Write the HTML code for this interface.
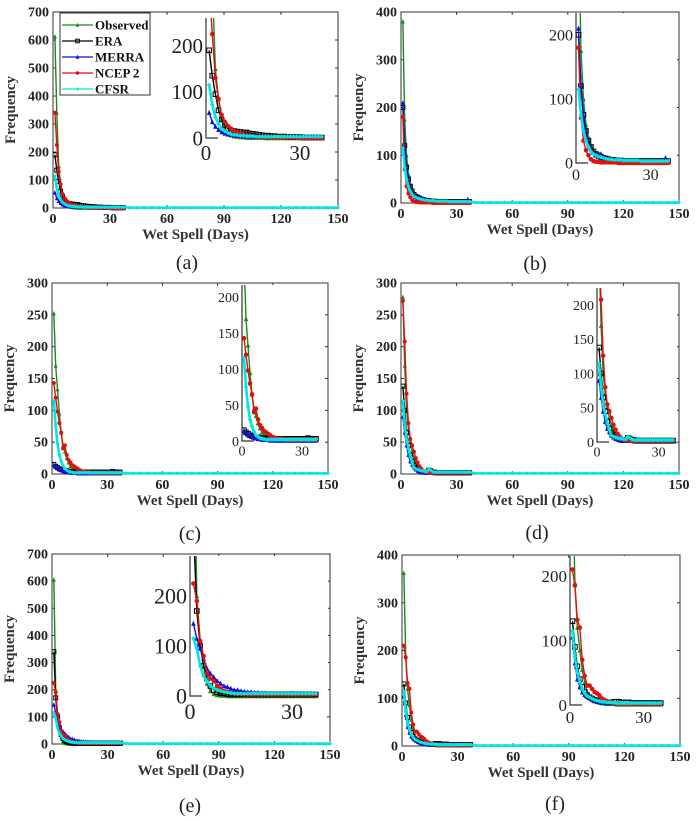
<!DOCTYPE html>
<html><head><meta charset="utf-8"><style>
html,body{margin:0;padding:0;background:#fff}
svg{display:block;font-family:"Liberation Serif",serif}
text{font-family:"Liberation Serif",serif}
</style></head><body>
<svg id="fig" width="696" height="821" viewBox="0 0 696 821" font-family="Liberation Serif, serif"></svg>
<script>
// shared x data
const xTicks=[0,30,60,90,120,150];
const tailDays=[40,44,48,52,56,60,64,68,72,76,80,84,88,92,96,100,104,108,112,116,120,124,128,132,136,140,144,148,150];
const tailVals=[1,1,1,1,1,1,1,1,1,1,1,1,1,1,1,1,1,1,1,1,1,1,1,1,1,1,1,1,1];
const seriesNames=["Observed","ERA","MERRA","NCEP 2","CFSR"];
// panel a
const aObs=[612,340,150,85,40,20,10,6,4,3,2,2,1,1,1,1,1,1,0,0,0,0,0,0,0,0,0,0,0,0,0,0,0,0,0,0,0];
const aEra=[190,135,95,60,40,28,20,16,15,14,13,12,12,10,9,8,7,6,5,5,4,4,3,3,3,2,2,2,2,2,1,1,1,1,1,1,1];
const aMerra=[55,35,25,18,13,10,8,7,6,5,5,4,4,4,3,3,3,3,3,2,2,2,2,2,2,2,2,2,1,1,1,1,1,1,1,1,1];
const aNcep=[340,225,130,85,50,35,26,20,15,12,10,8,6,5,4,3,3,2,2,2,1,1,1,1,1,1,1,1,1,0,0,0,0,0,0,0,0];
const aCfsr=[115,72,45,30,20,15,11,8,7,6,5,5,4,4,4,3,3,3,3,3,3,3,3,3,3,3,3,3,3,3,3,3,3,3,3,3,3];
// panel b
const bObs=[380,175,100,60,40,28,20,14,10,8,6,5,4,3,3,2,2,2,1,1,1,1,1,1,1,1,1,1,1,1,1,1,1,1,1,1,1];
const bEra=[200,120,75,50,35,25,18,14,12,10,8,7,6,5,5,4,4,4,3,3,3,3,3,3,3,3,3,3,3,3,3,3,3,3,3,3,3];
const bMerra=[210,120,70,45,30,22,16,12,10,14,8,7,6,5,5,4,4,4,4,3,3,3,3,3,3,3,3,3,3,3,3,3,3,3,3,8,3];
const bNcep=[180,70,35,20,12,6,3,2,2,1,1,1,1,1,1,1,0,0,0,0,0,0,0,0,0,0,0,0,0,0,0,0,0,0,0,0,0];
const bCfsr=[115,75,50,35,25,18,14,12,10,9,8,7,6,6,5,5,5,5,4,4,4,4,4,4,4,3,3,3,3,3,3,3,3,3,3,3,3];
// panel c
const cObs=[252,170,133,95,65,45,35,25,18,12,8,6,4,3,2,2,1,1,1,1,1,1,1,1,1,1,1,1,1,1,1,1,1,1,1,1,1];
const cEra=[15,12,10,8,7,6,5,5,4,4,4,3,3,3,3,3,3,3,3,3,3,3,3,3,3,3,3,3,3,3,3,3,4,3,3,3,3];
const cMerra=[14,12,10,8,6,5,4,3,3,2,2,2,2,1,1,1,1,1,1,1,1,1,1,1,1,1,1,1,1,1,1,1,1,1,1,1,1];
const cNcep=[143,120,98,80,65,40,45,30,22,18,14,12,10,8,6,5,4,3,3,3,2,2,2,2,2,2,2,2,2,2,2,2,2,2,2,2,2];
const cCfsr=[115,75,48,30,20,13,8,6,4,3,3,2,2,2,2,2,2,2,2,2,2,2,2,2,2,2,2,2,2,2,2,2,2,2,2,2,2];
// panel d
const dObs=[278,170,100,70,50,35,25,18,12,8,6,4,3,3,2,2,2,1,1,1,1,1,1,1,1,1,1,1,1,1,1,1,1,1,1,1,1];
const dEra=[138,100,65,45,30,20,14,10,8,6,4,3,3,3,6,5,3,3,2,2,2,2,2,2,2,2,2,2,2,2,2,2,2,2,2,2,2];
const dMerra=[90,65,45,30,20,15,10,7,5,4,3,3,2,2,4,3,2,2,2,2,2,2,2,2,2,2,2,2,2,2,2,2,2,2,2,2,2];
const dNcep=[272,208,126,80,55,45,35,25,18,12,8,5,4,3,3,2,2,2,2,2,2,2,2,2,2,2,2,2,2,2,2,2,2,2,2,2,2];
const dCfsr=[115,80,55,40,28,18,10,8,7,6,5,5,4,4,8,6,4,3,3,3,3,3,3,3,3,3,3,3,3,3,3,3,3,3,3,3,3];
// panel e
const eObs=[605,200,110,60,25,10,4,2,1,1,0,0,0,0,0,0,0,0,0,0,0,0,0,0,0,0,0,0,0,0,0,0,0,0,0,0,0];
const eEra=[340,170,100,60,35,20,12,8,6,5,4,3,3,3,3,3,3,3,3,3,3,3,3,3,3,3,3,3,3,3,3,3,3,3,3,3,3];
const eMerra=[145,115,95,75,55,45,38,30,25,20,18,15,12,12,10,9,8,8,7,7,6,6,5,5,5,5,5,5,5,6,5,5,5,4,4,4,4];
const eNcep=[225,190,110,80,45,35,30,20,15,10,8,6,5,4,4,3,3,3,3,3,3,3,3,3,3,3,3,3,3,3,3,3,3,3,3,3,3];
const eCfsr=[115,95,60,40,30,20,15,12,10,8,7,6,5,5,5,5,5,5,5,5,5,5,5,5,5,5,5,5,5,5,5,5,5,5,5,5,5];
// panel f
const fObs=[362,190,120,85,55,35,20,12,8,6,5,4,3,3,2,2,2,2,1,1,1,1,1,1,1,1,1,1,1,1,1,1,1,1,1,1,1];
const fEra=[130,90,60,40,28,20,15,12,10,8,7,6,5,5,4,4,4,5,5,5,4,4,4,4,3,3,3,3,3,3,3,3,3,3,3,3,3];
const fMerra=[105,65,40,28,20,16,13,11,9,7,6,5,4,4,4,3,3,3,3,3,3,3,3,3,3,3,3,3,3,3,3,3,3,3,3,3,3];
const fNcep=[210,185,132,120,70,45,30,30,25,20,18,15,10,8,6,5,4,3,3,3,2,2,2,2,2,2,2,2,2,2,2,2,2,2,2,2,2];
const fCfsr=[115,75,50,35,25,18,14,12,10,8,7,6,5,5,4,4,4,4,3,3,3,3,3,3,3,3,3,3,3,3,3,3,3,3,3,3,3];
const aYTicks=[0,100,200,300,400,500,600,700];
const bYTicks=[0,100,200,300,400];
const cYTicks=[0,50,100,150,200,250,300];
const eYTicks=[0,100,200,300,400,500,600,700];
const insetXTicks=[0,30];

const NS="http://www.w3.org/2000/svg";
const FF="Liberation Serif, serif";
const svg=document.getElementById('fig');
const colors=["#1a8a1a","#000000","#1010d0","#e01010","#00e5e5"];
const markers=["star","square","tri","circle","diamond"];
function mk(tag,attrs,parent){const e=document.createElementNS(NS,tag);for(const k in attrs)e.setAttribute(k,attrs[k]);if(tag==='text')e.setAttribute('font-family',FF);(parent||svg).appendChild(e);return e;}
function marker(g,type,x,y,c,s){
  let e;
  if(type==="square") e=mk('rect',{x:x-s,y:y-s,width:2*s,height:2*s,fill:'none',stroke:c,'stroke-width':1},g);
  else if(type==="tri") e=mk('polygon',{points:`${x},${y-s-0.5} ${x-s},${y+s} ${x+s},${y+s}`,fill:c},g);
  else if(type==="circle") e=mk('circle',{cx:x,cy:y,r:s,fill:c},g);
  else if(type==="diamond") e=mk('polygon',{points:`${x},${y-s} ${x+s},${y} ${x},${y+s} ${x-s},${y}`,fill:c},g);
  else e=mk('polygon',{points:`${x},${y-s-0.5} ${x+s},${y+s} ${x-s},${y+s}`,fill:c},g);
  
  
}
let clipId=0;
function axes(P){
  P.sx=v=>P.x0+(v/P.xmax)*(P.x1-P.x0);
  P.sy=v=>P.y1-(v/P.ymax)*(P.y1-P.y0);
}
function drawSeries(g,P,series,withTail,ms){
  series.forEach((arr,si)=>{
    const pts=arr.map((v,i)=>[P.sx(i+1),P.sy(v)]);
    if(withTail&&si===4){tailDays.forEach((d,i)=>pts.push([P.sx(d),P.sy(tailVals[i])]));}
    const sw=(si===4)?2.6:1.4;
    const line=mk('polyline',{points:pts.map(p=>p.join(',')).join(' '),fill:'none',stroke:colors[si],'stroke-width':sw},g);
    
    
    pts.forEach(p=>marker(g,markers[si],p[0],p[1],colors[si],ms));
  });
}
function panel(name,P,yTicks,series,inset,caption,legend){
  axes(P);
  const g=mk('g',{});
  
  
  const id='clip'+(clipId++);
  const cp=mk('clipPath',{id:id},g);mk('rect',{x:P.x0,y:P.y0,width:P.x1-P.x0+3,height:P.y1-P.y0+3},cp);
  const frame=mk('rect',{x:P.x0,y:P.y0,width:P.x1-P.x0,height:P.y1-P.y0,fill:'none',stroke:'#333','stroke-width':1},g);
  
  
  xTicks.forEach(t=>{const x=P.sx(t);
    mk('line',{x1:x,x2:x,y1:P.y1,y2:P.y1-3,stroke:'#333'},g);mk('line',{x1:x,x2:x,y1:P.y0,y2:P.y0+3,stroke:'#333'},g);
    const tx=mk('text',{x:x,y:P.y1+15,'text-anchor':'middle','font-size':14,'font-weight':'bold',fill:'#222'},g);tx.textContent=t;
    
    
  });
  yTicks.forEach(t=>{const y=P.sy(t);
    mk('line',{x1:P.x0,x2:P.x0+3,y1:y,y2:y,stroke:'#333'},g);mk('line',{x1:P.x1,x2:P.x1-3,y1:y,y2:y,stroke:'#333'},g);
    const tx=mk('text',{x:P.x0-4,y:y+4.5,'text-anchor':'end','font-size':14,'font-weight':'bold',fill:'#222'},g);tx.textContent=t;
    
    
  });
  const xt=mk('text',{x:(P.x0+P.x1)/2,y:P.y1+31,'text-anchor':'middle','font-size':15,'font-weight':'bold',fill:'#333'},g);xt.textContent='Wet Spell (Days)';
  
  
  const cy=(P.y0+P.y1)/2;
  const yt=mk('text',{x:0,y:0,transform:`translate(${P.x0-38},${cy}) rotate(-90)`,'text-anchor':'middle','font-size':15,'font-weight':'bold',fill:'#333'},g);yt.textContent='Frequency';
  
  
  const sg=mk('g',{'clip-path':`url(#${id})`},g);
  drawSeries(sg,P,series,true,2);
  const I=inset; axes(I);
  const ig=mk('g',{},g);
  
  
  mk('rect',{x:I.x0,y:I.y0,width:I.x1-I.x0+4,height:I.y1-I.y0,fill:'#fff'},ig);
  const id2='clip'+(clipId++);
  const cp2=mk('clipPath',{id:id2},ig);mk('rect',{x:I.x0,y:I.y0,width:I.x1-I.x0+4,height:I.y1-I.y0+3},cp2);
  mk('polyline',{points:`${I.x0},${I.y0} ${I.x0},${I.y1} ${I.x0+12},${I.y1}`,fill:'none',stroke:'#333','stroke-width':1.2},ig);
  const isg=mk('g',{'clip-path':`url(#${id2})`},ig);
  drawSeries(isg,I,series,false,2.3);
  I.yt.forEach(t=>{const tx=mk('text',{x:I.x0-3,y:I.sy(t)+I.fs*0.35,'text-anchor':'end','font-size':I.fs,fill:'#222'},ig);tx.textContent=t;
    
    });
  insetXTicks.forEach(t=>{const tx=mk('text',{x:I.sx(t),y:I.y1+I.fs*1.05,'text-anchor':'middle','font-size':I.fs,fill:'#222'},ig);tx.textContent=t;
    
    });
  const cap=mk('text',{x:caption[0],y:caption[1],'text-anchor':'middle','font-size':20,fill:'#222'},g);cap.textContent=caption[2];
  
  
  if(legend){
    const lg=mk('g',{},g);
    
    
    mk('rect',{x:60,y:13,width:90,height:82,fill:'#fff',stroke:'#333','stroke-width':1},lg);
    seriesNames.forEach((n,i)=>{const y=25+i*16;
      const e=mk('g',{},lg);
      
      
      mk('line',{x1:62,x2:93,y1:y,y2:y,stroke:colors[i],'stroke-width':1.3},e);
      marker(e,markers[i],77.5,y,colors[i],1.8);
      const t=mk('text',{x:95,y:y+4.5,'font-size':13,'font-weight':'bold',fill:'#111'},e);t.textContent=n;});
  }
}
panel('a',{x0:53,x1:338,y0:12,y1:208,xmax:150,ymax:700},aYTicks,[aObs,aEra,aMerra,aNcep,aCfsr],
  {x0:206,x1:328,y0:18,y1:138,xmax:39,ymax:260,yt:[0,100,200],fs:21},[187,269,'(a)'],true);
panel('b',{x0:401,x1:679,y0:12,y1:203,xmax:150,ymax:400},bYTicks,[bObs,bEra,bMerra,bNcep,bCfsr],
  {x0:576,x1:673,y0:13,y1:163,xmax:39,ymax:234,yt:[0,100,200],fs:16},[535,270,'(b)'],false);
panel('c',{x0:52,x1:328,y0:283,y1:474,xmax:150,ymax:300},cYTicks,[cObs,cEra,cMerra,cNcep,cCfsr],
  {x0:242,x1:317,y0:285,y1:441,xmax:37.5,ymax:217,yt:[0,50,100,150,200],fs:14},[190,540,'(c)'],false);
panel('d',{x0:401,x1:679,y0:283,y1:474,xmax:150,ymax:300},cYTicks,[dObs,dEra,dMerra,dNcep,dCfsr],
  {x0:597,x1:673,y0:288,y1:442,xmax:37,ymax:225,yt:[0,50,100,150,200],fs:14},[537,539,'(d)'],false);
panel('e',{x0:52,x1:330,y0:554,y1:744,xmax:150,ymax:700},eYTicks,[eObs,eEra,eMerra,eNcep,eCfsr],
  {x0:190,x1:324,y0:556,y1:696,xmax:39.4,ymax:280,yt:[0,100,200],fs:22},[190,812,'(e)'],false);
panel('f',{x0:402,x1:680,y0:555,y1:746,xmax:150,ymax:400},bYTicks,[fObs,fEra,fMerra,fNcep,fCfsr],
  {x0:570,x1:673,y0:556,y1:705,xmax:42,ymax:231,yt:[0,100,200],fs:17},[555,810,'(f)'],false);
</script>
</body></html>
